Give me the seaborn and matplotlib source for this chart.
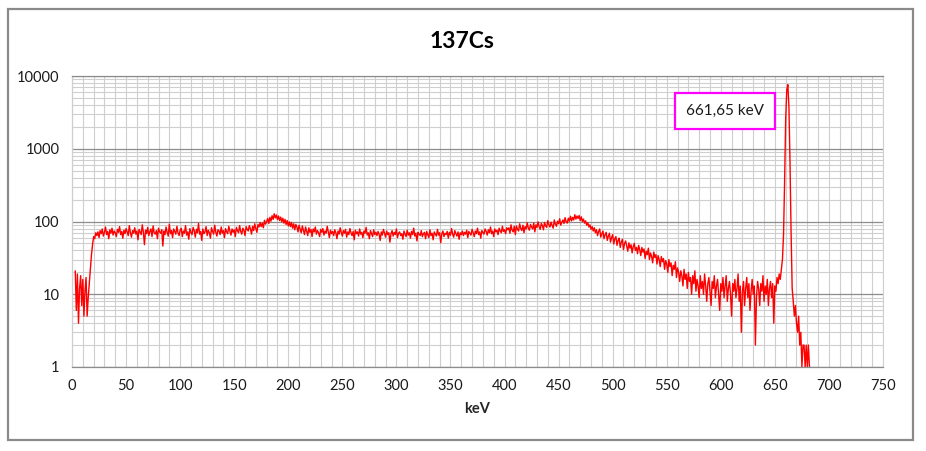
import numpy as np
import pandas as pd
import matplotlib
matplotlib.use("Agg")
import matplotlib.pyplot as plt
from matplotlib.ticker import MultipleLocator, LogLocator, NullFormatter
from matplotlib.patches import Rectangle
import seaborn as sns

# ---------------- data ----------------
title = "137Cs"
x_label = "keV"
peak_label = "661,65 keV"
energy_start_kev = 3          # first channel shown (keV), 1 keV per channel
counts = [
    21, 6, 19, 4, 12, 18, 7, 16, 5, 11, 17, 5, 9, 14, 22, 35, 48, 62, 58, 70,            # 3-22
    64, 72, 60, 75, 68, 79, 63, 71, 84, 66, 73, 58, 77, 69, 81, 65, 74, 70, 62, 78,      # 23-42
    71, 85, 66, 73, 59, 76, 68, 80, 72, 64, 88, 70, 61, 75, 69, 82, 67, 74, 56, 78,      # 43-62
    72, 66, 90, 71, 48, 76, 68, 83, 64, 73, 79, 62, 87, 70, 67, 75, 58, 81, 72, 69,      # 63-82
    77, 46, 74, 66, 84, 71, 63, 92, 68, 75, 60, 79, 73, 67, 86, 70, 64, 76, 81, 62,      # 83-102
    74, 69, 88, 65, 72, 57, 80, 71, 66, 83, 75, 61, 78, 70, 94, 67, 73, 55, 79, 68,      # 103-122
    72, 85, 64, 76, 70, 59, 82, 73, 67, 89, 71, 63, 77, 74, 66, 84, 69, 75, 60, 80,      # 123-142
    72, 68, 86, 74, 65, 79, 71, 77, 62, 83, 75, 70, 88, 73, 67, 81, 76, 64, 85, 78,      # 143-162
    74, 88, 79, 67, 86, 75, 93, 80, 71, 91, 84, 97, 85, 95, 82, 104, 92, 100, 110, 94,   # 163-182
    114, 101, 120, 107, 128, 112, 123, 106, 119, 103, 115, 99, 111, 95, 107, 91, 103, 87, 99, 85,  # 183-202
    97, 81, 93, 77, 91, 84, 72, 89, 78, 70, 87, 76, 66, 84, 73, 64, 82, 71, 78, 62,      # 203-222
    79, 72, 84, 67, 75, 70, 62, 78, 71, 80, 65, 74, 69, 86, 72, 60, 76, 68, 73, 64,      # 223-242
    77, 70, 58, 74, 67, 82, 71, 63, 75, 69, 78, 61, 72, 66, 80, 70, 64, 73, 56, 76,      # 243-262
    68, 72, 63, 79, 67, 71, 60, 74, 69, 83, 65, 70, 58, 75, 68, 62, 77, 66, 71, 64,      # 263-282
    73, 67, 55, 72, 65, 78, 69, 61, 74, 66, 70, 52, 68, 75, 63, 71, 66, 79, 60, 69,      # 283-302
    72, 64, 68, 57, 74, 67, 62, 76, 65, 70, 59, 73, 66, 81, 63, 69, 54, 71, 67, 64,      # 303-322
    75, 62, 68, 71, 58, 73, 66, 60, 77, 64, 69, 56, 72, 67, 63, 78, 65, 70, 51, 68,      # 323-342
    74, 62, 69, 66, 73, 59, 71, 65, 80, 67, 61, 75, 68, 63, 72, 57, 70, 66, 74, 64,      # 343-362
    71, 67, 76, 60, 73, 69, 65, 78, 70, 62, 74, 68, 81, 66, 72, 59, 75, 71, 67, 79,      # 363-382
    73, 65, 77, 70, 84, 68, 74, 62, 79, 72, 76, 66, 81, 74, 70, 86, 73, 77, 68, 82,      # 383-402
    77, 82, 69, 90, 76, 72, 86, 66, 87, 78, 74, 93, 80, 75, 89, 70, 85, 79, 96, 81,      # 403-422
    76, 91, 84, 79, 95, 72, 90, 83, 99, 85, 78, 94, 88, 77, 97, 87, 83, 103, 90, 84,     # 423-442
    98, 88, 81, 105, 92, 86, 101, 93, 109, 89, 98, 105, 94, 113, 99, 95, 111, 101, 118, 102,  # 443-462
    114, 105, 124, 108, 119, 110, 121, 103, 116, 100, 108, 95, 102, 89, 96, 84, 90, 78, 85, 74,  # 463-482
    82, 70, 77, 64, 73, 79, 61, 68, 74, 58, 66, 71, 55, 63, 69, 52, 60, 66, 49, 58,      # 483-502
    62, 47, 55, 59, 44, 52, 57, 41, 50, 54, 46, 39, 51, 43, 48, 37, 45, 50, 40, 44,      # 503-522
    36, 47, 41, 34, 44, 38, 42, 31, 39, 35, 43, 30, 37, 33, 27, 38, 32, 35, 26, 34,      # 523-542
    30, 24, 33, 28, 31, 22, 29, 26, 20, 30, 24, 27, 18, 25, 22, 28, 17, 23, 20, 15,      # 543-562
    21, 18, 13, 22, 16, 19, 12, 20, 15, 17, 10, 18, 14, 21, 11, 16, 13, 9, 18, 12,       # 563-582
    15, 10, 19, 13, 8, 14, 17, 11, 7, 15, 12, 18, 9, 13, 16, 10, 6, 14, 11, 17,          # 583-602
    9, 13, 18, 8, 12, 15, 10, 5, 14, 11, 16, 9, 12, 19, 8, 13, 3, 11, 15, 7,             # 603-622
    12, 17, 9, 14, 6, 11, 16, 10, 13, 2, 9, 15, 12, 7, 14, 11, 18, 8, 13, 10,            # 623-642
    16, 7, 12, 15, 9, 14, 4, 13, 11, 17, 14, 19, 16, 22, 30, 65, 350, 2600, 6400, 7600,  # 643-662
    3800, 650, 70, 12, 8, 5, 7, 4, 3, 5, 2, 3, 1, 2, 2, 1, 2, 1, 2, 1,                   # 663-682
]
energy_kev = energy_start_kev + np.arange(len(counts))
x_ticks = [0, 50, 100, 150, 200, 250, 300, 350, 400, 450, 500, 550, 600, 650, 700, 750]
y_ticks = [1, 10, 100, 1000, 10000]
y_tick_labels = ["1", "10", "100", "1000", "10000"]

df = pd.DataFrame({"keV": energy_kev, "counts": counts})

# ---------------- style ----------------
sns.set_style("white")
plt.rcParams["font.family"] = ["Lato", "DejaVu Sans"]

W, H = 926, 451
fig = plt.figure(figsize=(W / 100, H / 100), dpi=100)

# chart-area border (Excel style)
fig.patches.append(Rectangle((8 / W, 1 - 440 / H), (913 - 8) / W, (440 - 9) / H,
                             transform=fig.transFigure, fill=False,
                             edgecolor="#8a8a8a", linewidth=1.6, zorder=0))

ax = fig.add_axes([72 / W, 1 - 367 / H, (883 - 72) / W, (367 - 76) / H])

sns.lineplot(data=df, x="keV", y="counts", ax=ax, color="#ff0000",
             linewidth=1.0, estimator=None, sort=False)

ax.set_yscale("log")
ax.set_xlim(0, 750)
ax.set_ylim(1, 10000)

ax.set_xticks(x_ticks)
ax.set_xticklabels([str(v) for v in x_ticks])
ax.xaxis.set_minor_locator(MultipleLocator(10))
ax.set_yticks(y_ticks)
ax.set_yticklabels(y_tick_labels)
ax.yaxis.set_minor_locator(LogLocator(base=10, subs=np.arange(2, 10)))
ax.yaxis.set_minor_formatter(NullFormatter())

ax.grid(which="major", axis="y", color="#8c8c8c", linewidth=0.9, zorder=0)
ax.grid(which="minor", axis="y", color="#cfcfcf", linewidth=0.8, zorder=0)
ax.grid(which="both", axis="x", color="#cfcfcf", linewidth=0.8, zorder=0)
ax.set_axisbelow(True)

ax.tick_params(axis="both", which="major", direction="out", length=5,
               width=0.8, color="#8c8c8c", labelsize=10.5, labelcolor="#1a1a1a", pad=4)
ax.tick_params(axis="both", which="minor", length=0)

for side in ["left", "bottom", "top"]:
    ax.spines[side].set_color("#8c8c8c")
    ax.spines[side].set_linewidth(0.9)
ax.spines["right"].set_color("#cfcfcf")
ax.spines["right"].set_linewidth(0.8)
ax.spines["left"].set_color("#cfcfcf")

ax.set_xlabel(x_label, fontsize=10.5, fontweight="bold", labelpad=6)
ax.set_ylabel("")

fig.text(462 / W, 1 - 42 / H, title, ha="center", va="center",
         fontsize=16.5, fontweight="bold", color="#000000")

# peak label box
ax.text((725 - 72) / (883 - 72), (367 - 111) / (367 - 76), peak_label,
        transform=ax.transAxes, ha="center", va="center", fontsize=11,
        color="#1a1a1a",
        bbox=dict(boxstyle="square,pad=0.75", facecolor="white",
                  edgecolor="#ff00ff", linewidth=1.6))

fig.savefig("out.png", dpi=100)
